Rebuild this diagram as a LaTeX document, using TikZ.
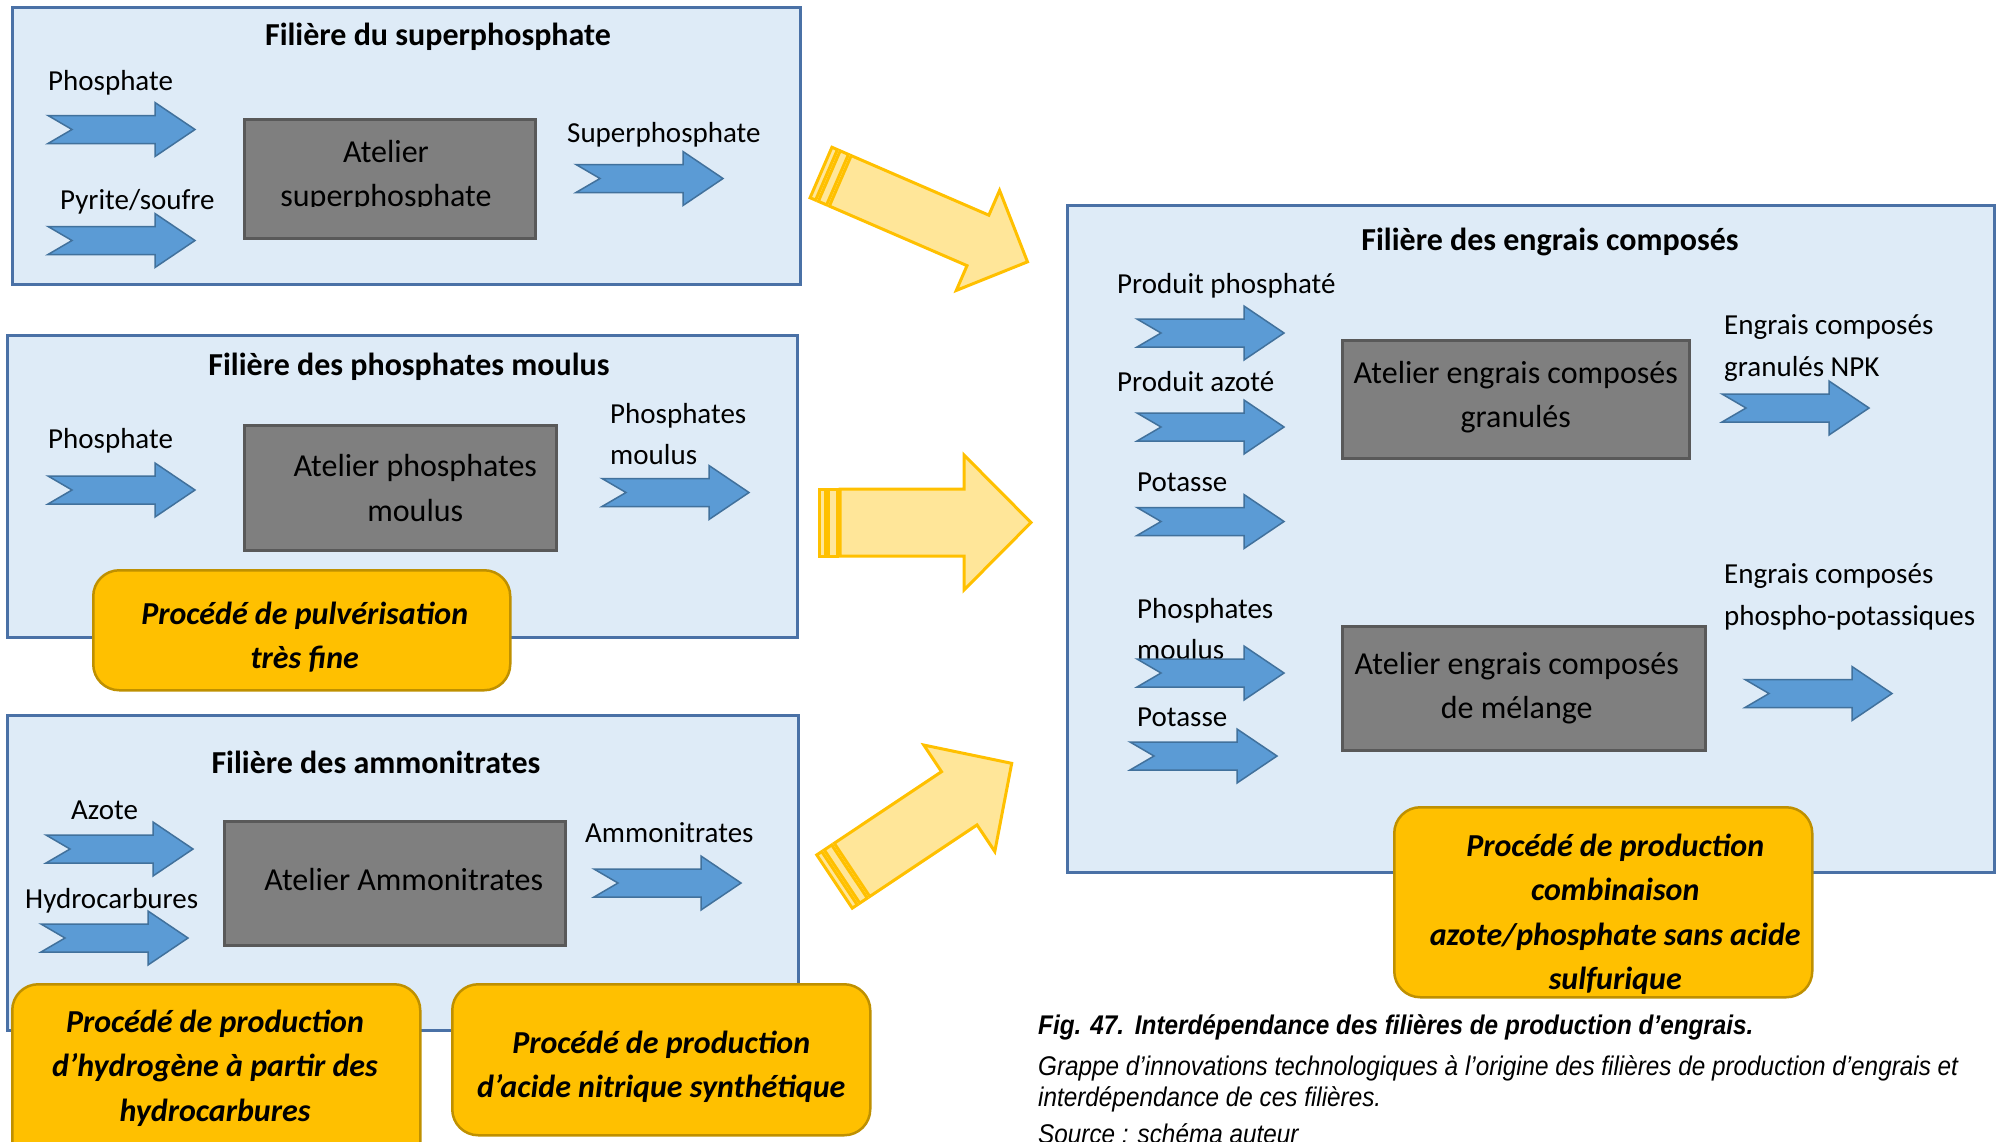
\documentclass[tikz,border=0pt]{standalone}
\usepackage{fontspec}
\setmainfont{Carlito}
\newfontfamily\capfont[FakeStretch=0.9]{Liberation Sans}
\usetikzlibrary{positioning}

\definecolor{panelfill}{HTML}{DEEBF7}
\definecolor{panelline}{HTML}{4A71A6}
\definecolor{atelierfill}{HTML}{7F7F7F}
\definecolor{atelierline}{HTML}{595959}
\definecolor{procedefill}{HTML}{FFC000}
\definecolor{procedeline}{HTML}{BF9000}
\definecolor{feedfill}{HTML}{5B9BD5}
\definecolor{feedline}{HTML}{41719C}
\definecolor{bigfill}{HTML}{FFE699}
\definecolor{bigline}{HTML}{FFC000}

\begin{document}
\begin{tikzpicture}[x=1pt,y=-1pt,
		panel/.style={draw=panelline,fill=panelfill,line width=2.5pt,anchor=north west,inner sep=0pt},
		atelier/.style={draw=atelierline,fill=atelierfill,line width=2.5pt,anchor=north west,inner sep=0pt},
		procede/.style={draw=procedeline,fill=procedefill,line width=2.5pt,rounded corners=26pt,anchor=north west,inner sep=0pt},
		titre/.style={font=\fontsize{32}{38}\selectfont\bfseries,inner sep=0pt,text height=24pt,text depth=8pt},
		flux/.style={font=\fontsize{29}{41.5}\selectfont,anchor=west,inner sep=0pt,text height=21.75pt,text depth=7.25pt},
		fluxdouble/.style={font=\fontsize{29}{41.5}\selectfont,anchor=west,inner sep=0pt,align=left},
		ateliertext/.style={font=\fontsize{32}{44.5}\selectfont,align=center,inner sep=0pt},
		procedetext/.style={font=\fontsize{32}{44.5}\selectfont\bfseries\itshape,align=center,inner sep=0pt},
		legende/.style={anchor=west,inner sep=0pt,align=left},
		feedarrow/.style={draw=feedline,fill=feedfill,line width=1.5pt},
		bigarrow/.style={draw=bigline,fill=bigfill,line width=3pt},
		pics/feed/.style={code={
				\draw[feedarrow] (0,-14) -- (107,-14) -- (107,-27) -- (147,0) -- (107,27) -- (107,14) -- (0,14) -- (24,0) -- cycle;
		}},
		pics/bigflow/.style n args={4}{code={
				\draw[bigarrow] (0,-#2) rectangle (6,#2);
				\draw[bigarrow] (9,-#2) rectangle (18,#2);
				\draw[bigarrow] (21,-#2) -- ({#1-#4},-#2) -- ({#1-#4},-#3) -- (#1,0) -- ({#1-#4},#3) -- ({#1-#4},#2) -- (21,#2) -- cycle;
		}}
		]
		\clip (0,0) rectangle (1997,1141);
		
		% les quatre filieres
		\node[panel,minimum width=788pt,minimum height=277pt] (superpanel) at (11,6) {};
		\node[panel,minimum width=790pt,minimum height=302pt] (moulupanel) at (6,334) {};
		\node[panel,minimum width=791pt,minimum height=315pt] (ammopanel) at (6,714) {};
		\node[panel,minimum width=927pt,minimum height=667pt] (npkpanel) at (1066,204) {};
		
		\node[titre] (supertitre) at (438,37) {Filière du superphosphate};
		\node[titre] (moulutitre) at (409,367) {Filière des phosphates moulus};
		\node[titre] (ammotitre) at (376,765) {Filière des ammonitrates};
		\node[titre] (npktitre) at (1550,242) {Filière des engrais composés};
		
		% intrants et produits
		\node[flux] (phos1) at (48,83) {Phosphate};
		\node[flux] (pyrite) at (60,202) {Pyrite/soufre};
		\node[flux] (superout) at (567,135) {Superphosphate};
		\node[flux] (phos2) at (48,441) {Phosphate};
		\node[fluxdouble] (mouluout) at (610,434) {Phosphates\\moulus};
		\node[flux] (azote) at (71,812) {Azote};
		\node[flux] (hydro) at (25,901) {Hydrocarbures};
		\node[flux] (ammoout) at (585,835) {Ammonitrates};
		\node[flux] (prodphos) at (1117,286) {Produit phosphaté};
		\node[flux] (prodazote) at (1117,384) {Produit azoté};
		\node[flux] (potasse1) at (1137,484) {Potasse};
		\node[fluxdouble] (npkout) at (1724,348) {Engrais composés\\granulés NPK};
		\node[fluxdouble] (moulu2) at (1137,629) {Phosphates\\moulus};
		\node[flux] (potasse2) at (1137,719) {Potasse};
		\node[fluxdouble] (melout) at (1724,597) {Engrais composés\\phospho-potassiques};
		
		\foreach \x/\y in {48/129.5, 48/240.5, 576/178.5, 48/490, 602/492.5, 46/849, 41/938, 594/883,
			1137/333, 1137/427, 1137/521.5, 1137/673, 1130/756, 1722/408, 1745/693.5}
		\pic at (\x,\y) {feed};
		
		% ateliers
		\node[atelier,minimum width=291pt,minimum height=119pt] (supatelier) at (243,118) {};
		\begin{scope}
			\clip (243,118) rectangle (534,206);
			\node[ateliertext] (supateliertext) at (386,176) {Atelier\\superphosphate};
		\end{scope}
		\node[atelier,minimum width=312pt,minimum height=125pt] (mouatelier) at (243,424) {};
		\node[ateliertext] at ([xshift=15pt]mouatelier.center) {Atelier phosphates\\moulus};
		\node[atelier,minimum width=341pt,minimum height=124pt] (ammoatelier) at (223,820) {};
		\node[ateliertext] at ([xshift=9pt,yshift=4pt]ammoatelier.center) {Atelier Ammonitrates};
		\node[atelier,minimum width=347pt,minimum height=118pt] (granatelier) at (1341,339) {};
		\node[ateliertext] at ([yshift=2pt]granatelier.center) {Atelier engrais composés\\granulés};
		\node[atelier,minimum width=363pt,minimum height=124pt] (melatelier) at (1341,625) {};
		\node[ateliertext] at ([xshift=-7pt]melatelier.center) {Atelier engrais composés\\de mélange};
		
		% procedes
		\node[procede,minimum width=417pt,minimum height=120pt] (pulv) at (92,569) {};
		\node[procedetext] at ([xshift=3pt,yshift=-7pt]pulv.center) {Procédé de pulvérisation\\très fine};
		\node[procede,minimum width=408pt,minimum height=190pt] (hydrogene) at (11,983) {};
		\node[procedetext] at (215,1068) {Procédé de production\\d’hydrogène à partir des\\hydrocarbures};
		\node[procede,minimum width=418pt,minimum height=151pt] (nitrique) at (451,983) {};
		\node[procedetext] at ([yshift=-7pt]nitrique.center) {Procédé de production\\d’acide nitrique synthétique};
		\node[procede,minimum width=418pt,minimum height=190pt] (combinaison) at (1393,806) {};
		\node[procedetext] at ([xshift=12pt,yshift=-12pt]combinaison.center) {Procédé de production\\combinaison\\azote/phosphate sans acide\\sulfurique};
		
		% grandes fleches vers la filiere des engrais composes
		\pic[rotate=-23.4] at (821,172.5) {bigflow={225}{27.5}{54.5}{54}};
		\pic at (819,522.5) {bigflow={212}{33.5}{67.5}{67}};
		\pic[rotate=33.7] at (834.5,881.5) {bigflow={213}{32}{64}{63}};
		
		% legende
		\node[legende,font=\capfont\fontsize{27}{31}\selectfont\bfseries\itshape] (figtitre) at (1038,1027) {Fig. 47.\hspace{0.4em}Interdépendance des filières de production d’engrais.};
		\node[legende,font=\capfont\fontsize{27}{31}\selectfont\itshape] (figtexte) at (1038,1084) {Grappe d’innovations technologiques à l’origine des filières de production d’engrais et\\interdépendance de ces filières.};
		\node[legende,font=\capfont\fontsize{27}{31}\selectfont\itshape] (figsource) at (1038,1134) {Source : schéma auteur};
	\end{tikzpicture}
\end{document}
